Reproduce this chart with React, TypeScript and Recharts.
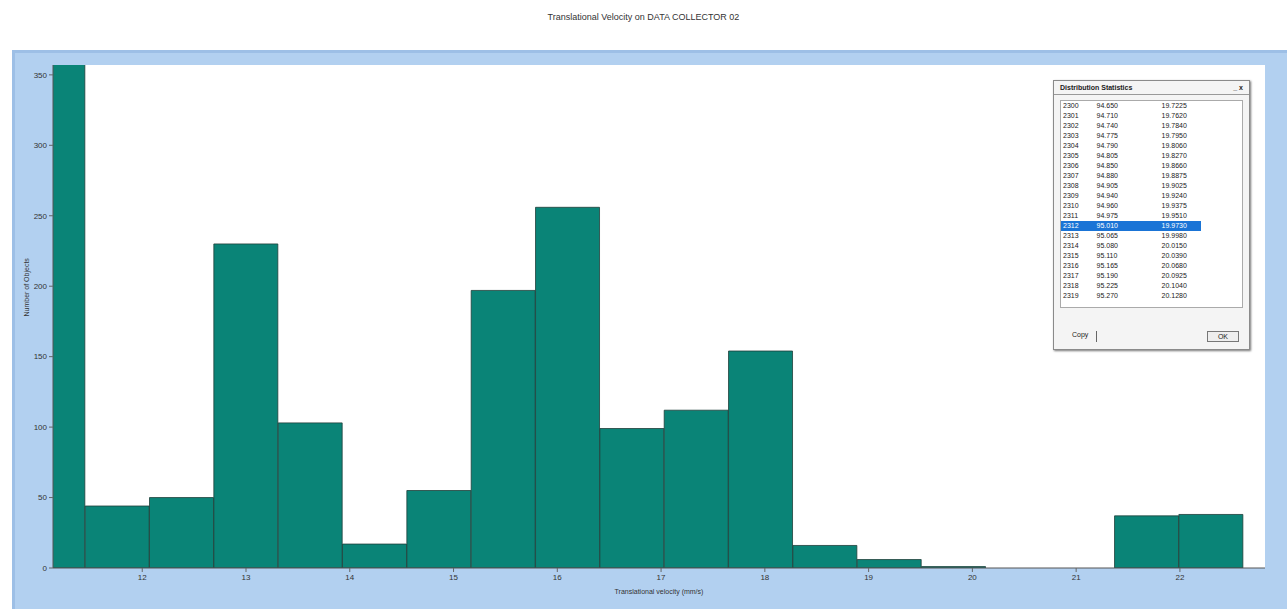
import { Bar, BarChart, CartesianGrid, XAxis, YAxis } from "recharts";

// bin centres (velocity) and counts
const binCenters = [
  11.14, 11.76, 12.38, 13.0, 13.62, 14.24, 14.86, 15.48, 16.1, 16.72, 17.34,
  17.96, 18.58, 19.2, 19.82, 20.44, 21.06, 21.68, 22.3,
];
const counts = [
  420, 44, 50, 230, 103, 17, 55, 197, 256, 99, 112, 154, 16, 6, 1, 0, 0, 37, 38,
];
const xTicks = [12, 13, 14, 15, 16, 17, 18, 19, 20, 21, 22];
const yTicks = [0, 50, 100, 150, 200, 250, 300, 350];

// rows of the "Distribution Statistics" dialog
const statIds = [
  "2300", "2301", "2302", "2303", "2304", "2305", "2306", "2307", "2308", "2309",
  "2310", "2311", "2312", "2313", "2314", "2315", "2316", "2317", "2318", "2319",
];
const statSpeeds = [
  "94.650", "94.710", "94.740", "94.775", "94.790", "94.805", "94.850", "94.880",
  "94.905", "94.940", "94.960", "94.975", "95.010", "95.065", "95.080", "95.110",
  "95.165", "95.190", "95.225", "95.270",
];
const statValues = [
  "19.7225", "19.7620", "19.7840", "19.7950", "19.8060", "19.8270", "19.8660",
  "19.8875", "19.9025", "19.9240", "19.9375", "19.9510", "19.9730", "19.9980",
  "20.0150", "20.0390", "20.0680", "20.0925", "20.1040", "20.1280",
];
const selectedRow = 12;

const chartData = binCenters.map((v, i) => ({ v, count: counts[i] }));

const font = "'Liberation Sans', Arial, sans-serif";

function StatsDialog() {
  return (
    <div
      style={{
        position: "absolute",
        left: 1053,
        top: 80,
        width: 195,
        height: 268,
        background: "#f4f4f4",
        border: "1px solid #8a8a8a",
        boxShadow: "1px 1px 2px #777",
        fontFamily: font,
        fontSize: 7,
        color: "#222",
      }}
    >
      <div
        style={{
          display: "flex",
          justifyContent: "space-between",
          padding: "3px 6px",
          borderBottom: "1px solid #999",
          fontWeight: "bold",
          fontSize: 7,
        }}
      >
        <span>Distribution Statistics</span>
        <span>_ x</span>
      </div>
      <div
        style={{
          margin: "5px 6px",
          height: 206,
          background: "#fff",
          border: "1px solid #aaa",
          lineHeight: "10px",
        }}
      >
        {statIds.map((id, i) => (
          <div
            key={id}
            style={{
              display: "flex",
              background: i === selectedRow ? "#1a74d6" : "transparent",
              color: i === selectedRow ? "#fff" : "#222",
              width: 140,
            }}
          >
            <span style={{ width: 34, paddingLeft: 2 }}>{id}</span>
            <span style={{ width: 66 }}>{statSpeeds[i]}</span>
            <span style={{ width: 40 }}>{statValues[i]}</span>
          </div>
        ))}
      </div>
      <div
        style={{
          display: "flex",
          justifyContent: "space-between",
          padding: "18px 10px 0 18px",
        }}
      >
        <span style={{ borderRight: "1px solid #666", paddingRight: 8 }}>Copy</span>
        <span
          style={{
            border: "1px solid #777",
            padding: "1px 10px",
            background: "#eee",
          }}
        >
          OK
        </span>
      </div>
    </div>
  );
}

export default function App() {
  return (
    <div style={{ position: "relative", width: 1287, height: 609, background: "#fff" }}>
      <style>{"body{margin:0}"}</style>
      <div
        style={{
          position: "absolute",
          top: 12,
          width: 1287,
          textAlign: "center",
          fontFamily: font,
          fontSize: 9,
          color: "#333",
        }}
      >
        Translational Velocity on DATA COLLECTOR 02
      </div>
      <div
        style={{
          position: "absolute",
          left: 12,
          top: 50,
          width: 1275,
          height: 559,
          background: "#b2d0f0",
          borderLeft: "3px solid #9dbfe6",
          borderTop: "3px solid #9dbfe6",
        }}
      />
      <div style={{ position: "absolute", left: 0, top: 0 }}>
        <BarChart
          width={1287}
          height={609}
          data={chartData}
          barCategoryGap={0}
          margin={{ top: 65, right: 22, left: 23, bottom: 13 }}
        >
          <CartesianGrid fill="#ffffff" horizontal={false} vertical={false} />
          <XAxis
            dataKey="v"
            type="number"
            domain={[11.14, 22.82]}
            ticks={xTicks}
            allowDataOverflow
            height={28}
            tick={{ fontSize: 8, fill: "#333", fontFamily: font }}
            tickLine={{ stroke: "#666" }}
            tickSize={4}
            axisLine={{ stroke: "#555" }}
            label={{
              value: "Translational velocity (mm/s)",
              position: "insideBottom",
              offset: 2,
              style: { fontSize: 7, fill: "#333", fontFamily: font },
            }}
          />
          <XAxis
            xAxisId="top"
            orientation="top"
            type="number"
            domain={[11.14, 22.82]}
            tick={false}
            tickLine={false}
            height={0}
            axisLine={{ stroke: "#333" }}
          />
          <YAxis
            domain={[0, 357]}
            ticks={yTicks}
            allowDataOverflow
            width={30}
            tick={{ fontSize: 8, fill: "#333", fontFamily: font }}
            tickLine={{ stroke: "#666" }}
            tickSize={4}
            axisLine={{ stroke: "#555" }}
            label={{
              value: "Number of Objects",
              angle: -90,
              position: "insideLeft",
              offset: 4,
              style: { fontSize: 7, fill: "#333", fontFamily: font },
            }}
          />
          <Bar
            dataKey="count"
            fill="#0a8477"
            stroke="#1f3f3a"
            strokeWidth={0.8}
            isAnimationActive={false}
          />
        </BarChart>
      </div>
      <StatsDialog />
    </div>
  );
}
